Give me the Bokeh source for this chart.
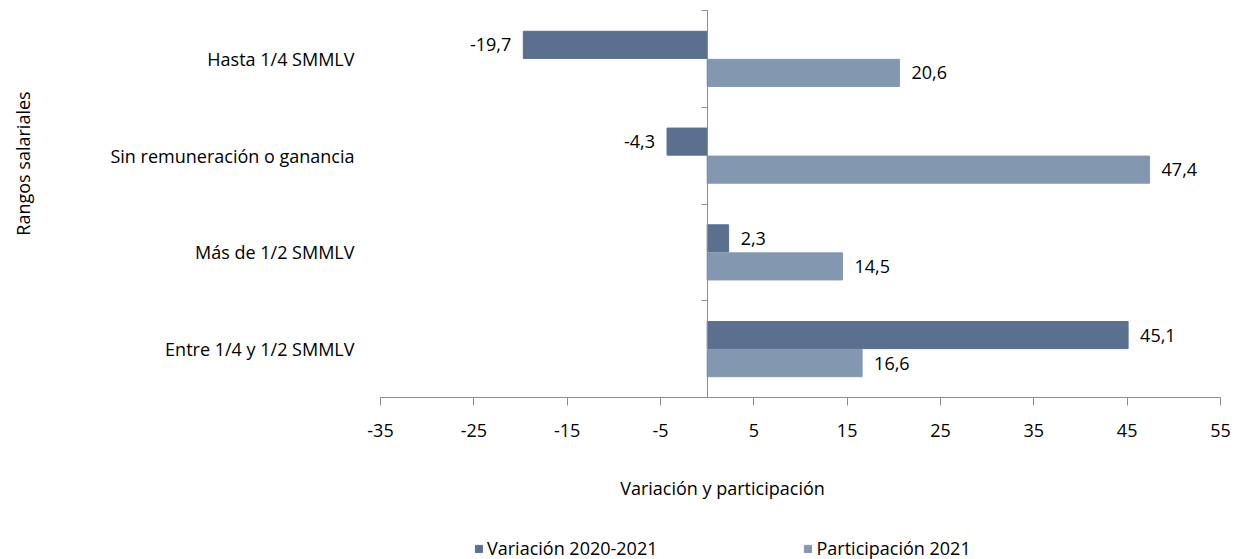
import math
from bokeh.plotting import figure
from bokeh.models import (ColumnDataSource, FixedTicker, LinearAxis, Range1d,
                          Legend, LegendItem, Label)
from bokeh.core.properties import value
from bokeh.embed import file_html
from bokeh.resources import INLINE

# ---- data ----
categories = ["Hasta 1/4 SMMLV", "Sin remuneración o ganancia",
              "Más de 1/2 SMMLV", "Entre 1/4 y 1/2 SMMLV"]
variacion = [-19.7, -4.3, 2.3, 45.1]
participacion = [20.6, 47.4, 14.5, 16.6]
x_ticks = [-35, -25, -15, -5, 5, 15, 25, 35, 45, 55]
series_names = ["Variación 2020-2021", "Participación 2021"]
x_title = "Variación y participación"
y_title = "Rangos salariales"

# ---- style / layout ----
colors = ["#5b6f8e", "#8497b0"]
FONT = "Open Sans"
FS = "18px"
TXT = "#000000"
AXC = "#8c8c8c"
W, H = 1235, 559
AX_L, AX_R, AX_T, AX_B = 380, 1220, 10, 397   # pixel box of the axes area
x_min, x_max = x_ticks[0], x_ticks[-1]

n = len(categories)
centers = [n - 0.5 - i for i in range(n)]
off = 0.145
bar_h = 0.28

# the frame covers the whole canvas; data ranges are extended so that the
# axes area sits at the pixel box above
xpp = (x_max - x_min) / (AX_R - AX_L)
ypp = n / (AX_B - AX_T)
x_range = Range1d(x_min - AX_L * xpp, x_max + (W - AX_R) * xpp)
y_range = Range1d(-(H - AX_B) * ypp, n + AX_T * ypp)


def fmt(v):
    return f"{v:.1f}".replace(".", ",")


p = figure(width=W, height=H, output_backend="svg", toolbar_location=None,
           x_range=x_range, y_range=y_range,
           x_axis_location=None, y_axis_location=None,
           min_border=0)
p.outline_line_color = None
p.background_fill_color = "white"
p.border_fill_color = "white"
p.xgrid.visible = False
p.ygrid.visible = False

renderers = []
for k, (vals, sign) in enumerate([(variacion, 1), (participacion, -1)]):
    ys = [c + sign * off for c in centers]
    src = ColumnDataSource(dict(
        y=ys, v=vals,
        lbl=[fmt(v) for v in vals],
        xo=[12 if v >= 0 else -12 for v in vals],
        al=["left" if v >= 0 else "right" for v in vals],
    ))
    r = p.hbar(y="y", left=0, right="v", height=bar_h, source=src,
               fill_color=colors[k], line_color=colors[k], line_width=1)
    renderers.append(r)
    p.text(x="v", y="y", text="lbl", x_offset="xo", text_align="al",
           text_baseline="middle", source=src, text_font=value(FONT),
           text_font_size=FS, text_color=TXT)

# x axis along y = 0
xa = LinearAxis(fixed_location=0, bounds=(x_min, x_max),
                ticker=FixedTicker(ticks=x_ticks))
xa.major_label_overrides = {t: str(t) for t in x_ticks}
xa.axis_line_color = AXC
xa.major_tick_line_color = AXC
xa.major_tick_out = 8
xa.major_tick_in = 0
xa.minor_tick_line_color = None
xa.major_label_text_font = FONT
xa.major_label_text_font_size = FS
xa.major_label_text_color = TXT
xa.major_label_standoff = 18
p.add_layout(xa, "below")

# category labels at the left edge of the axes area
ya = LinearAxis(fixed_location=x_min, bounds=(0, n),
                ticker=FixedTicker(ticks=centers))
ya.major_label_overrides = {c: lab for c, lab in zip(centers, categories)}
ya.axis_line_color = None
ya.major_tick_line_color = None
ya.minor_tick_line_color = None
ya.major_label_text_font = FONT
ya.major_label_text_font_size = FS
ya.major_label_text_color = TXT
ya.major_label_standoff = 20
p.add_layout(ya, "left")

# zero line with category separators
za = LinearAxis(fixed_location=0, bounds=(0, n),
                ticker=FixedTicker(ticks=list(range(n + 1))),
                axis_line_color=AXC, major_tick_line_color=AXC,
                major_tick_out=6, major_tick_in=0,
                minor_tick_line_color=None,
                major_label_text_font_size="0px")
za.major_label_overrides = {i: "" for i in range(n + 1)}
p.add_layout(za, "left")

# axis titles
p.add_layout(Label(x=722, y=H - 487, x_units="screen", y_units="screen",
                   text=x_title, text_align="center", text_baseline="middle",
                   text_font=FONT, text_font_size=FS, text_color=TXT))
p.add_layout(Label(x=22, y=H - 163, x_units="screen", y_units="screen",
                   angle=math.pi / 2, text=y_title, text_align="center",
                   text_baseline="middle", text_font=FONT,
                   text_font_size=FS, text_color=TXT))

legend = Legend(items=[LegendItem(label=series_names[i], renderers=[renderers[i]])
                       for i in range(2)],
                orientation="horizontal", location=(474, -1),
                glyph_width=9, glyph_height=9, label_standoff=4, spacing=146,
                label_text_font=FONT, label_text_font_size=FS,
                label_text_color=TXT, border_line_color=None,
                background_fill_alpha=0, padding=0, margin=0)
p.add_layout(legend, "center")

open("out.html", "w").write(file_html(p, INLINE))
